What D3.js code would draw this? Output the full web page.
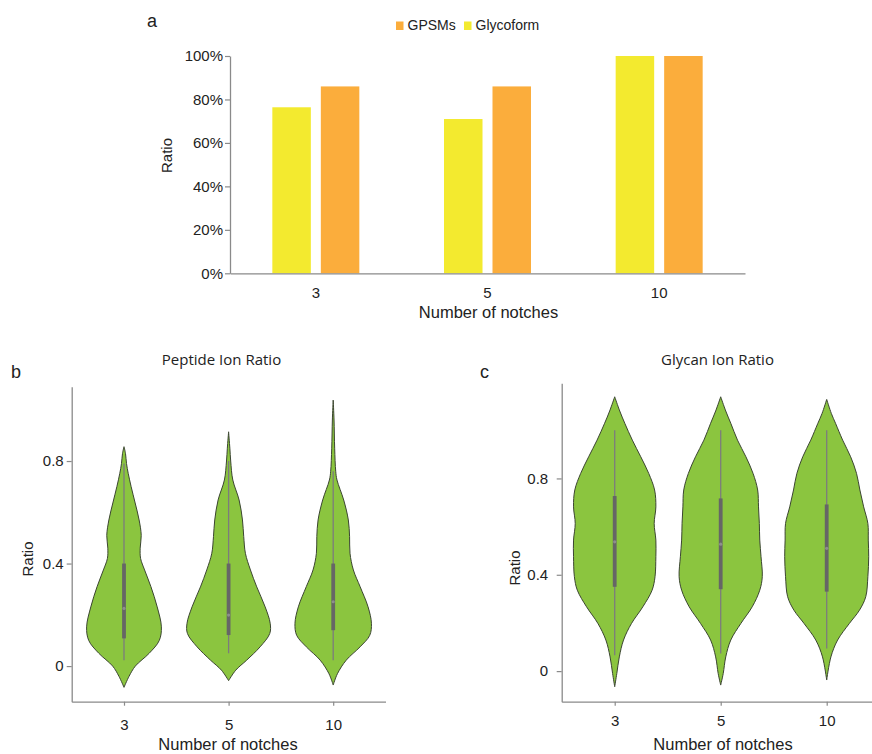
<!DOCTYPE html>
<html>
<head>
<meta charset="utf-8">
<script src="https://cdn.jsdelivr.net/npm/d3@7"></script>
<style>
  html, body { margin: 0; padding: 0; background: #fff; }
  svg { display: block; }
  text { font-family: "Liberation Sans", Arial, sans-serif; fill: #222; }
  .title { font-family: "Open Sans", "Noto Sans", sans-serif; }
</style>
</head>
<body>
<svg id="fig" width="872" height="754"></svg>
<script>
// ---------- data ----------
const notches = ["3", "5", "10"];

// panel a: identification ratio per number of notches (%)
const seriesNames = ["Glycoform", "GPSMs"];
const glycoformRatio = [76.4, 71, 100];
const gpsmRatio = [86, 86, 100];
const percentTicks = [0, 20, 40, 60, 80, 100];

// panels b/c: violin density profiles, [ratio value, relative density]
const peptideDensity3 = [[0.856,0],[0.83,0.035],[0.79,0.06],[0.752,0.1],[0.70,0.17],[0.64,0.26],[0.57,0.36],[0.51,0.41],[0.46,0.385],[0.42,0.395],[0.375,0.49],[0.31,0.64],[0.231,0.79],[0.153,0.89],[0.10,0.84],[0.05,0.6],[0.0,0.27],[-0.04,0.12],[-0.083,0]];
const peptideDensity5 = [[0.914,0],[0.85,0.03],[0.80,0.05],[0.726,0.1],[0.648,0.25],[0.57,0.33],[0.505,0.36],[0.44,0.40],[0.375,0.52],[0.309,0.67],[0.231,0.87],[0.167,0.99],[0.127,0.98],[0.075,0.75],[0.023,0.43],[-0.016,0.17],[-0.057,0]];
const peptideDensity10 = [[1.038,0],[0.96,0.02],[0.85,0.035],[0.76,0.06],[0.726,0.09],[0.648,0.25],[0.57,0.36],[0.505,0.39],[0.44,0.40],[0.375,0.48],[0.31,0.64],[0.231,0.83],[0.167,0.91],[0.12,0.87],[0.075,0.64],[0.023,0.31],[-0.03,0.1],[-0.074,0]];

const glycanDensity3 = [[1.139,0],[1.08,0.12],[1.029,0.24],[0.959,0.42],[0.89,0.62],[0.821,0.81],[0.752,0.95],[0.682,0.98],[0.613,0.94],[0.544,0.98],[0.475,0.98],[0.392,0.96],[0.336,0.89],[0.267,0.67],[0.198,0.40],[0.129,0.21],[0.059,0.11],[-0.01,0.05],[-0.065,0]];
const glycanDensity5 = [[1.139,0],[1.08,0.12],[1.029,0.24],[0.959,0.40],[0.89,0.6],[0.821,0.77],[0.752,0.88],[0.682,0.9],[0.613,0.92],[0.544,0.93],[0.475,0.96],[0.392,0.99],[0.336,0.93],[0.267,0.75],[0.198,0.48],[0.129,0.24],[0.059,0.12],[-0.01,0.06],[-0.058,0]];
const glycanDensity10 = [[1.128,0],[1.07,0.11],[1.029,0.21],[0.959,0.38],[0.89,0.57],[0.821,0.71],[0.752,0.79],[0.682,0.88],[0.613,0.98],[0.544,0.99],[0.475,1.0],[0.392,0.98],[0.309,0.93],[0.253,0.78],[0.198,0.54],[0.129,0.26],[0.059,0.10],[-0.037,0]];

// box-plot summaries per notch count
const peptideQ1 = [0.108, 0.121, 0.14];
const peptideMedian = [0.225, 0.199, 0.251];
const peptideQ3 = [0.40, 0.40, 0.40];
const peptideWhiskerLow = [0.023, 0.05, 0.023];
const peptideWhiskerHigh = [0.79, 0.80, 0.76];

const glycanQ1 = [0.35, 0.34, 0.33];
const glycanMedian = [0.537, 0.527, 0.51];
const glycanQ3 = [0.727, 0.717, 0.692];
const glycanWhiskerLow = [0.066, 0.073, 0.094];
const glycanWhiskerHigh = [1.0, 1.0, 1.0];

const ratioTicks = [0, 0.4, 0.8];

// ---------- style ----------
const axisColor = "#8a8a8a";
const barColors = { Glycoform: "#F3EA2F", GPSMs: "#FBAD3C" };
const violinFill = "#8BC53F";
const violinStroke = "#3b4531";

const svg = d3.select("#fig");
svg.append("rect").attr("width", 872).attr("height", 754).attr("fill", "#fff");

function styleAxis(g) {
  g.select(".domain").attr("stroke", axisColor).attr("stroke-width", 1.3);
  g.selectAll(".tick line").attr("stroke", axisColor).attr("stroke-width", 1.2);
  g.selectAll(".tick text").attr("fill", "#222")
    .style("font-family", '"Liberation Sans", Arial, sans-serif').style("font-size", "15px");
}

// ---------- panel a: grouped bars ----------
{
  const x = d3.scaleBand().domain(notches).range([230, 745]).padding(0);
  const xi = d3.scaleBand().domain(seriesNames).range([0, x.bandwidth()])
    .paddingInner(0.206).paddingOuter(0.873);
  const y = d3.scaleLinear().domain([0, 100]).range([273.3, 56]);

  const rows = notches.map((n, i) => ({ n, Glycoform: glycoformRatio[i], GPSMs: gpsmRatio[i] }));
  const g = svg.append("g");
  g.selectAll("g.grp").data(rows).join("g").attr("class", "grp")
    .attr("transform", d => `translate(${x(d.n)},0)`)
    .selectAll("rect").data(d => seriesNames.map(s => ({ s, v: d[s] }))).join("rect")
    .attr("x", d => xi(d.s)).attr("width", xi.bandwidth())
    .attr("y", d => y(d.v)).attr("height", d => y(0) - y(d.v))
    .attr("fill", d => barColors[d.s]);

  const ya = svg.append("g").attr("transform", "translate(230,0)")
    .call(d3.axisLeft(y).tickValues(percentTicks).tickFormat(d => d + "%")
      .tickSize(5).tickSizeOuter(0).tickPadding(2));
  styleAxis(ya);
  const xa = svg.append("g").attr("transform", "translate(0,273.3)")
    .call(d3.axisBottom(x).tickSize(0).tickPadding(14));
  styleAxis(xa);

  svg.append("text").attr("x", 488.5).attr("y", 318).attr("text-anchor", "middle")
    .style("font-size", "16.5px").text("Number of notches");
  svg.append("text").attr("transform", "translate(172,155.5) rotate(-90)")
    .attr("text-anchor", "middle").style("font-size", "15px").text("Ratio");
  svg.append("text").attr("x", 147).attr("y", 27).style("font-size", "18px").text("a");

  // legend
  const legend = [
    { s: "GPSMs", x: 396 },
    { s: "Glycoform", x: 464 }
  ];
  const lg = svg.append("g");
  lg.selectAll("rect").data(legend).join("rect")
    .attr("x", d => d.x).attr("y", 21.5).attr("width", 7.5).attr("height", 8.5)
    .attr("fill", d => barColors[d.s]);
  lg.selectAll("text").data(legend).join("text")
    .attr("x", d => d.x + 11.5).attr("y", 30).style("font-size", "14px").text(d => d.s);
}

// ---------- panels b, c: violins ----------
function violinPanel(o) {
  const x = d3.scalePoint().domain(notches).range(o.xRange).padding(0.5);
  const y = d3.scaleLinear().domain(o.yDomain).range([701.7, o.yTop]);
  const w = d3.scaleLinear().domain([0, 1]).range([0, 42]);

  const g = svg.append("g");
  o.densities.forEach((dens, i) => {
    const cx = x(notches[i]);
    const area = d3.area().curve(d3.curveCatmullRom.alpha(0.5))
      .y(d => y(d[0])).x0(d => cx - w(d[1])).x1(d => cx + w(d[1]));
    g.append("path").datum(dens).attr("d", area)
      .attr("fill", violinFill).attr("stroke", violinStroke).attr("stroke-width", 1);
    g.append("line").attr("x1", cx).attr("x2", cx)
      .attr("y1", y(o.whiskerLow[i])).attr("y2", y(o.whiskerHigh[i]))
      .attr("stroke", "#7c7c7c").attr("stroke-width", 1.3);
    g.append("line").attr("x1", cx).attr("x2", cx)
      .attr("y1", y(o.q1[i])).attr("y2", y(o.q3[i]))
      .attr("stroke", "#666").attr("stroke-width", 3.8);
    g.append("circle").attr("cx", cx).attr("cy", y(o.median[i])).attr("r", 1.6)
      .attr("fill", "#8e8e8e");
  });

  const ya = svg.append("g").attr("transform", `translate(${o.xRange[0]},0)`)
    .call(d3.axisLeft(y).tickValues(ratioTicks).tickFormat(d3.format("~g"))
      .tickSize(5).tickSizeOuter(0).tickPadding(o.yPad));
  styleAxis(ya);
  const xa = svg.append("g").attr("transform", "translate(0,701.7)")
    .call(d3.axisBottom(x).tickSize(4).tickSizeOuter(0).tickPadding(o.xPad));
  styleAxis(xa);

  svg.append("text").attr("class", "title").attr("x", o.titleX).attr("y", 365)
    .attr("text-anchor", "middle").style("font-size", "15px").style("fill", "#222")
    .text(o.title);
  svg.append("text").attr("x", o.xTitleX).attr("y", 750).attr("text-anchor", "middle")
    .style("font-size", "16.5px").text("Number of notches");
  svg.append("text").attr("transform", `translate(${o.ratioX},${o.ratioY}) rotate(-90)`)
    .attr("text-anchor", "middle").style("font-size", "15px").text("Ratio");
  svg.append("text").attr("x", o.letterX).attr("y", 378).style("font-size", "18px").text(o.letter);
}

violinPanel({
  letter: "b", letterX: 11, title: "Peptide Ion Ratio", titleX: 221.5,
  xRange: [71.7, 385.5], yDomain: [-0.139, 1.09], yTop: 386.7,
  yPad: 3, xPad: 14, xTitleX: 228, ratioX: 33.3, ratioY: 559,
  densities: [peptideDensity3, peptideDensity5, peptideDensity10],
  q1: peptideQ1, median: peptideMedian, q3: peptideQ3,
  whiskerLow: peptideWhiskerLow, whiskerHigh: peptideWhiskerHigh
});

violinPanel({
  letter: "c", letterX: 480, title: "Glycan Ion Ratio", titleX: 717.5,
  xRange: [561.7, 879.7], yDomain: [-0.127, 1.195], yTop: 383.3,
  yPad: 8.5, xPad: 9.5, xTitleX: 723, ratioX: 520, ratioY: 568,
  densities: [glycanDensity3, glycanDensity5, glycanDensity10],
  q1: glycanQ1, median: glycanMedian, q3: glycanQ3,
  whiskerLow: glycanWhiskerLow, whiskerHigh: glycanWhiskerHigh
});
</script>
</body>
</html>
